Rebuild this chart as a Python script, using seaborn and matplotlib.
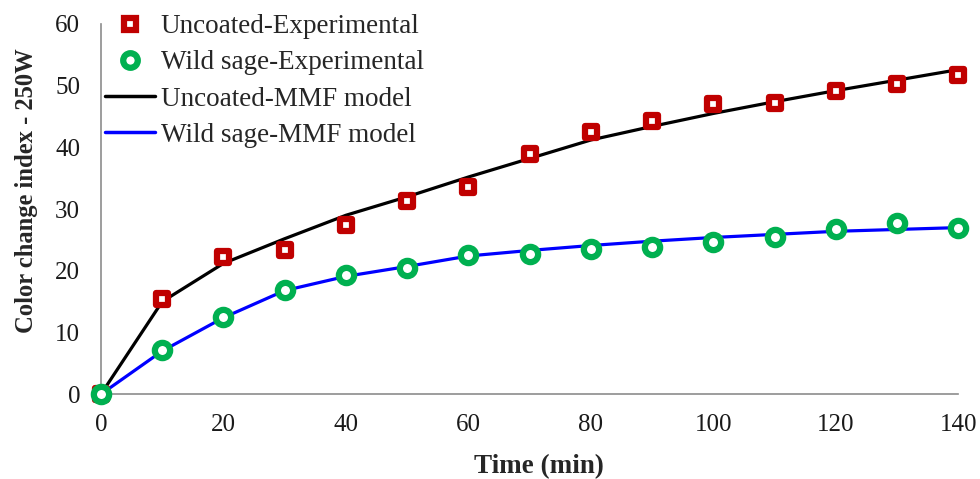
import matplotlib
matplotlib.use("Agg")
import matplotlib.pyplot as plt
import seaborn as sns
import pandas as pd
from matplotlib.lines import Line2D

time_min = [0, 10, 20, 30, 40, 50, 60, 70, 80, 90, 100, 110, 120, 130, 140]
uncoated_exp = [0, 15.5, 22.3, 23.3, 27.4, 31.3, 33.5, 39.0, 42.5, 44.2, 47.1, 47.2, 49.1, 50.3, 51.7]
wildsage_exp = [0, 7.1, 12.5, 16.9, 19.3, 20.5, 22.6, 22.8, 23.6, 23.8, 24.7, 25.5, 26.8, 27.8, 27.0]
uncoated_mmf = [0, 15.0, 21.2, 25.2, 29.0, 32.0, 35.2, 38.2, 41.2, 43.4, 45.5, 47.4, 49.2, 50.9, 52.6]
wildsage_mmf = [0, 7.0, 12.4, 16.8, 19.1, 20.7, 22.4, 23.3, 24.1, 24.8, 25.4, 25.9, 26.4, 26.7, 27.0]

df = pd.DataFrame({"t": time_min, "ue": uncoated_exp, "we": wildsage_exp,
                   "um": uncoated_mmf, "wm": wildsage_mmf})

sns.set_style("white")
plt.rcParams["font.family"] = ["Liberation Serif", "DejaVu Serif"]

fig = plt.figure(figsize=(9.8, 4.79), dpi=100)
ax = fig.add_axes([0.103, 0.177, 0.875, 0.773])

RED = "#C00000"
GREEN = "#00B050"
BLUE = "#0000FF"

sns.lineplot(data=df, x="t", y="um", ax=ax, color="black", linewidth=2.3, zorder=2)
sns.lineplot(data=df, x="t", y="wm", ax=ax, color=BLUE, linewidth=2.3, zorder=2)
sns.scatterplot(data=df, x="t", y="ue", ax=ax, marker="s", s=9**2, color="white",
                edgecolor=RED, linewidth=4.5, zorder=3, clip_on=False)
sns.scatterplot(data=df, x="t", y="we", ax=ax, marker="o", s=11**2, color="white",
                edgecolor=GREEN, linewidth=4.5, zorder=3, clip_on=False)

ax.set_xlim(0, 140)
ax.set_ylim(0, 60)
ax.set_xticks(range(0, 141, 20))
ax.set_yticks(range(0, 61, 10))

for side in ["top", "right"]:
    ax.spines[side].set_visible(False)
for side in ["left", "bottom"]:
    ax.spines[side].set_color("#8c8c8c")
    ax.spines[side].set_linewidth(1.2)

ax.tick_params(axis="both", which="major", direction="out", length=6, width=1.2,
               color="#8c8c8c", labelsize=18, labelcolor="#1a1a1a")
ax.tick_params(axis="y", pad=9)
ax.tick_params(axis="x", pad=8)

ax.set_xlabel("Time (min)", fontsize=19.5, fontweight="bold")
ax.set_ylabel("Color change index - 250W", fontsize=17.7, fontweight="bold")
ax.xaxis.set_label_coords(0.511, -0.163)
ax.yaxis.set_label_coords(-0.073, 0.551)

handles = [
    Line2D([], [], linestyle="none", marker="s", markersize=9, markerfacecolor="white",
           markeredgecolor=RED, markeredgewidth=4.5),
    Line2D([], [], linestyle="none", marker="o", markersize=10.5, markerfacecolor="white",
           markeredgecolor=GREEN, markeredgewidth=4.5),
    Line2D([], [], color="black", linewidth=2.5),
    Line2D([], [], color=BLUE, linewidth=2.5),
]
labels = ["Uncoated-Experimental", "Wild sage-Experimental",
          "Uncoated-MMF model", "Wild sage-MMF model"]
ax.legend(handles, labels, loc="upper left", bbox_to_anchor=(0.005, 1.026), frameon=False,
          fontsize=19.5, handlelength=1.85, handletextpad=0.2, labelspacing=0.41,
          borderaxespad=0.0, borderpad=0.0)

fig.savefig("out.png", dpi=100, facecolor="white")
